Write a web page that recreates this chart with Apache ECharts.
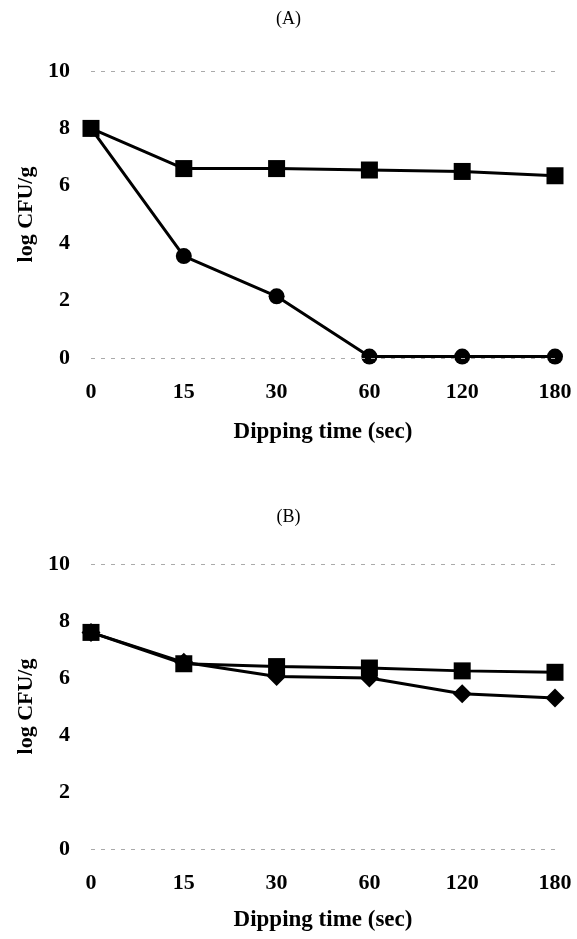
<!DOCTYPE html>
<html>
<head>
<meta charset="utf-8">
<script src="https://cdn.jsdelivr.net/npm/echarts@6/dist/echarts.min.js"></script>
<style>html,body{margin:0;padding:0;background:#fff;}#c{width:577px;height:939px;}</style>
</head>
<body>
<div id="c"></div>
<script>
var categories = ['0', '15', '30', '60', '120', '180'];
var yTicks = [0, 2, 4, 6, 8, 10];
var panelTitles = ['(A)', '(B)'];
var xName = 'Dipping time (sec)';
var yName = 'log CFU/g';
var seriesA_squares = [8.0, 6.6, 6.6, 6.55, 6.5, 6.35];
var seriesA_circles = [8.0, 3.55, 2.15, 0.05, 0.05, 0.05];
var seriesB_squares = [7.6, 6.5, 6.4, 6.35, 6.25, 6.2];
var seriesB_diamonds = [7.6, 6.55, 6.05, 6.0, 5.45, 5.3];

var font = 'Liberation Serif';
var chart = echarts.init(document.getElementById('c'));

function xAx(gi) {
  return {
    type: 'category', gridIndex: gi, data: categories, boundaryGap: false,
    axisLine: {show: false}, axisTick: {show: false},
    axisLabel: {color: '#000', fontFamily: font, fontWeight: 'bold', fontSize: 22, margin: 23},
    name: xName, nameLocation: 'middle', nameGap: gi === 0 ? 63 : 60,
    nameTextStyle: {color: '#000', fontFamily: font, fontWeight: 'bold', fontSize: 23}
  };
}
function yAx(gi) {
  return {
    type: 'value', gridIndex: gi, min: yTicks[0], max: yTicks[yTicks.length - 1], interval: 2,
    axisLine: {show: false}, axisTick: {show: false}, splitLine: {show: false},
    axisLabel: {color: '#000', fontFamily: font, fontWeight: 'bold', fontSize: 22, margin: 21},
    name: yName, nameLocation: 'middle', nameGap: 40, nameRotate: 90,
    nameTextStyle: {color: '#000', fontFamily: font, fontWeight: 'bold', fontSize: 22}
  };
}
var refLines = {
  silent: true, symbol: 'none', label: {show: false},
  lineStyle: {color: '#aaa', type: [4, 6], width: 1},
  data: [{yAxis: 0}, {yAxis: 10}]
};
function line(xi, data, sym, size, withRef) {
  var s = {
    type: 'line', xAxisIndex: xi, yAxisIndex: xi, data: data,
    symbol: sym, symbolSize: size, showSymbol: true,
    lineStyle: {color: '#000', width: 3},
    itemStyle: {color: '#000'}, z: 3
  };
  if (withRef) s.markLine = refLines;
  return s;
}

chart.setOption({
  backgroundColor: '#fff',
  animation: false,
  title: [
    {text: panelTitles[0], left: 'center', top: 5, textStyle: {fontFamily: font, fontWeight: 'normal', fontSize: 18, color: '#000'}},
    {text: panelTitles[1], left: 'center', top: 503, textStyle: {fontFamily: font, fontWeight: 'normal', fontSize: 18, color: '#000'}}
  ],
  grid: [
    {left: 91, right: 22, top: 71, height: 287},
    {left: 91, right: 22, top: 564, height: 285}
  ],
  xAxis: [xAx(0), xAx(1)],
  yAxis: [yAx(0), yAx(1)],
  series: [
    line(0, seriesA_circles, 'circle', 16, true),
    line(0, seriesA_squares, 'rect', 17, false),
    line(1, seriesB_diamonds, 'diamond', 19, true),
    line(1, seriesB_squares, 'rect', 17, false)
  ]
});
</script>
</body>
</html>
